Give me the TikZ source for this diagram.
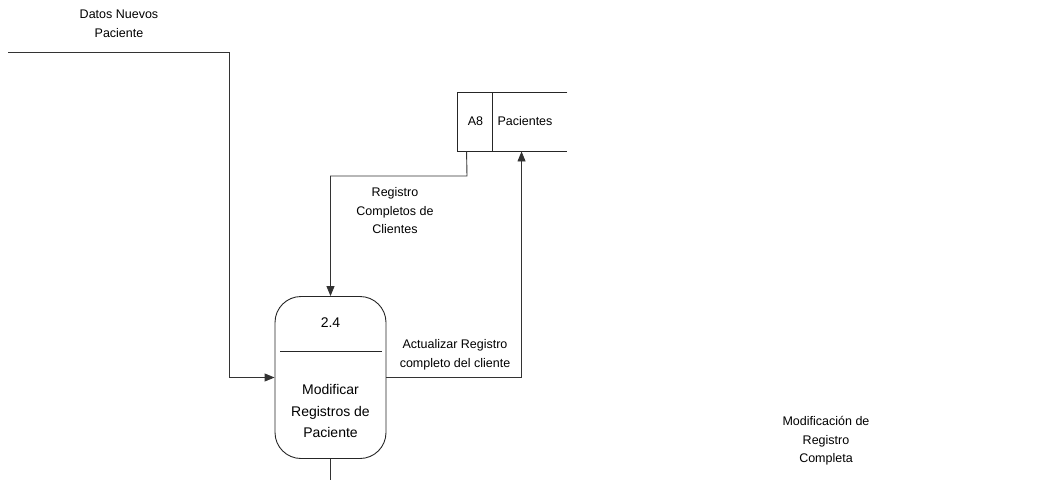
\documentclass[tikz,border=0pt]{standalone}
\usepackage{fontspec}
\setmainfont{Liberation Sans}
\usetikzlibrary{arrows.meta,calc}
\begin{document}
\begin{tikzpicture}[x=1pt,y=-1pt,
  line width=0.9pt,
  wire/.style={draw=black!80},
  arr/.style={wire,-{Triangle[length=10pt,width=8pt]}},
  lbl/.style={align=center,font=\fontsize{12.5}{18.5}\selectfont,inner sep=0pt},
  proc/.style={draw=black!85,rounded corners=26pt,minimum width=111pt,minimum height=162pt,inner sep=0pt},
]
\useasboundingbox (0,0) rectangle (1037,480);
% process
\node[proc] (p) at (330.5,377.5) {};
\draw[black!85] (280,351) -- (382,351);
\node[font=\fontsize{14}{22}\selectfont,inner sep=0pt] (pid) at (330.5,323) {2.4};
\node[align=center,font=\fontsize{14}{21.5}\selectfont,inner sep=0pt] (pname) at (330.5,411) {Modificar\\Registros de\\Paciente};
% data store
\node[minimum width=109pt,minimum height=58pt,inner sep=0pt] (ds) at (512.5,122) {};
\draw[black!85] (ds.north east) -- (ds.north west) -- (ds.south west) -- (ds.south east);
\draw[black!85] ($(ds.north west)+(35,0)$) -- ($(ds.south west)+(35,0)$);
\node[font=\fontsize{12.5}{14}\selectfont,inner sep=0pt] (dsid) at (475.5,121) {A8};
\node[font=\fontsize{12.5}{14}\selectfont,inner sep=0pt] (dsname) at (525,121) {Pacientes};
% coordinates
\coordinate (src) at (8,52);
\coordinate (dsout) at ($(ds.south west)+(9,0)$);
\coordinate (dsin) at ($(ds.south west)+(64,0)$);
\coordinate (down) at (330.5,480);
% connectors
\draw[arr] (src) -- (229,52) |- (p.west);
\draw[arr] (dsout) -- (467,176) -| (p.north);
\draw[arr] (p.east) -| (dsin);
\draw[wire] (p.south) -- (down);
% labels
\node[lbl] (l1) at (119,24) {Datos Nuevos\\Paciente};
\node[lbl] (l2) at (395,211) {Registro\\Completos de\\Clientes};
\node[lbl] (l3) at (455,355) {Actualizar Registro\\completo del cliente};
\node[lbl] (l4) at (826,441) {Modificación de\\Registro\\Completa};
\end{tikzpicture}
\end{document}
